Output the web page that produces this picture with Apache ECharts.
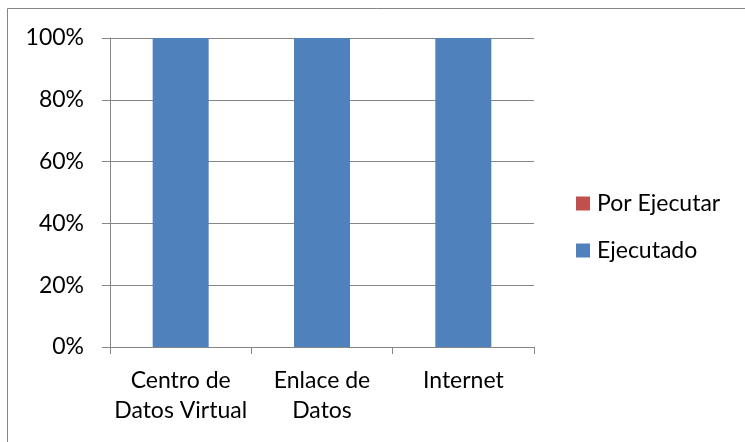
<!DOCTYPE html>
<html>
<head>
<meta charset="utf-8">
<script src="https://cdn.jsdelivr.net/npm/echarts@6/dist/echarts.min.js"></script>
<style>
html,body{margin:0;padding:0;background:#fff;}
#c{width:745px;height:442px;}
</style>
</head>
<body>
<div id="c"></div>
<script>
var categories = ['Centro de\nDatos Virtual', 'Enlace de\nDatos', 'Internet'];
var ejecutado = [100, 100, 100];
var porEjecutar = [0, 0, 0];
var yTicks = [0, 20, 40, 60, 80, 100];

var chart = echarts.init(document.getElementById('c'), null, {renderer: 'canvas'});
var font = 'Lato';
var grey = '#868686';
chart.setOption({
  animation: false,
  backgroundColor: '#fff',
  graphic: [{
    type: 'rect',
    shape: {x: 7.5, y: 8.5, width: 800, height: 500},
    style: {fill: 'none', stroke: grey, lineWidth: 1},
    silent: true
  }],
  grid: {left: 110, right: 211, top: 38, bottom: 95, containLabel: false},
  legend: {
    orient: 'vertical',
    left: 576,
    top: 192,
    padding: 0,
    data: ['Por Ejecutar', 'Ejecutado'],
    icon: 'rect',
    itemWidth: 14,
    itemHeight: 14,
    itemGap: 24,
    textStyle: {fontFamily: font, fontSize: 23, color: '#000', padding: [0, 0, 0, 2]}
  },
  xAxis: {
    type: 'category',
    data: categories,
    axisLine: {lineStyle: {color: grey}},
    axisTick: {show: true, length: 7, lineStyle: {color: grey}},
    axisLabel: {fontFamily: font, fontSize: 23, color: '#000', margin: 19, lineHeight: 30, interval: 0}
  },
  yAxis: {
    type: 'value',
    min: yTicks[0],
    max: yTicks[yTicks.length - 1],
    interval: 20,
    axisLine: {show: true, lineStyle: {color: grey}},
    axisTick: {show: true, length: 8, lineStyle: {color: grey}},
    splitLine: {lineStyle: {color: grey}},
    axisLabel: {formatter: '{value}%', fontFamily: font, fontSize: 23, color: '#000', margin: 26}
  },
  series: [
    {name: 'Ejecutado', type: 'bar', stack: 'a', data: ejecutado, barWidth: 56, itemStyle: {color: '#4F81BD'}},
    {name: 'Por Ejecutar', type: 'bar', stack: 'a', data: porEjecutar, barWidth: 56, itemStyle: {color: '#C0504D'}}
  ]
});
</script>
</body>
</html>
